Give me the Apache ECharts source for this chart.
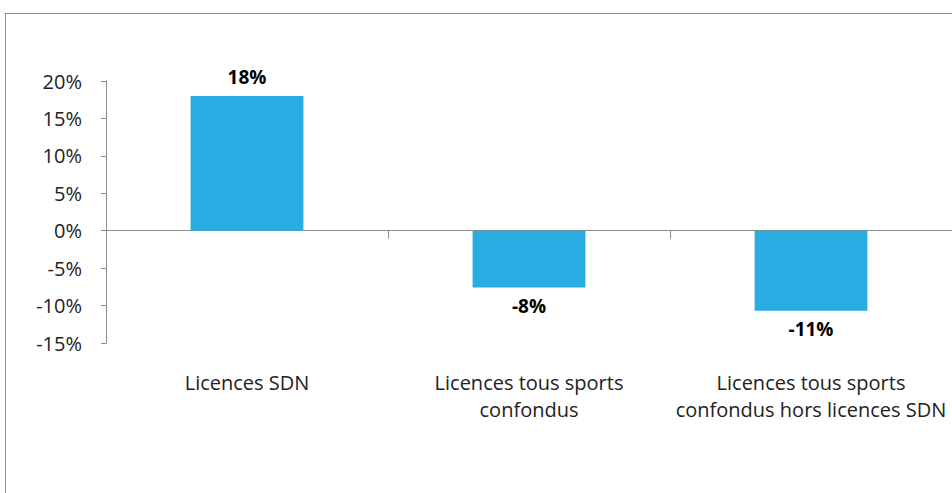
<!DOCTYPE html>
<html>
<head>
<meta charset="utf-8">
<script src="https://cdn.jsdelivr.net/npm/echarts@6/dist/echarts.min.js"></script>
<style>
  html, body { margin: 0; padding: 0; background: #ffffff; overflow: hidden; }
  #frame { position: absolute; left: 5px; top: 13px; width: 960px; height: 500px; border-top: 1px solid #8c8c8c; border-left: 1px solid #8c8c8c; }
  #chart { position: absolute; left: 0; top: 0; width: 952px; height: 493px; }
</style>
</head>
<body>
<div id="frame"></div>
<div id="chart"></div>
<script>
"use strict";

// catégories et valeurs (en %)
var categories = [
    'Licences SDN',
    'Licences tous sports\nconfondus',
    'Licences tous sports\nconfondus hors licences SDN'
];
var values = [18.0, -7.6, -10.7];
// graduations de l'axe Y
var yMin = -15;
var yMax = 20;
var yStep = 5;

var chart = echarts.init(document.getElementById('chart'), null, {renderer: 'svg'});

var fontFamily = '"Open Sans", Lato, sans-serif';

var option = {
    animation: false,
    backgroundColor: 'transparent',
    grid: {
        left: 106,
        right: -3,
        top: 81,
        bottom: 150
    },
    xAxis: [
        {
            // axe à zéro avec les graduations
            type: 'category',
            position: 'bottom',
            data: categories,
            axisLine: {
                onZero: true,
                lineStyle: {color: '#8c8c8c', width: 1}
            },
            axisTick: {
                show: true,
                length: 8,
                alignWithLabel: false,
                lineStyle: {color: '#8c8c8c'}
            },
            axisLabel: {show: false},
            splitLine: {show: false}
        },
        {
            // libellés en bas du graphique
            type: 'category',
            position: 'bottom',
            data: categories,
            axisLine: {show: false, onZero: false},
            axisTick: {show: false},
            axisLabel: {
                show: true,
                interval: 0,
                margin: 26,
                color: '#222222',
                fontFamily: fontFamily,
                fontSize: 20,
                lineHeight: 27,
                align: 'center'
            },
            splitLine: {show: false}
        }
    ],
    yAxis: {
        type: 'value',
        min: yMin,
        max: yMax,
        interval: yStep,
        axisLine: {
            show: true,
            lineStyle: {color: '#8c8c8c', width: 1}
        },
        axisTick: {
            show: true,
            length: 5,
            lineStyle: {color: '#8c8c8c'}
        },
        splitLine: {show: false},
        axisLabel: {
            margin: 24,
            color: '#222222',
            fontFamily: fontFamily,
            fontSize: 20,
            formatter: '{value}%'
        }
    },
    series: [
        {
            type: 'bar',
            xAxisIndex: 0,
            barWidth: '40%',
            itemStyle: {color: '#29ace2'},
            label: {
                show: true,
                distance: 9,
                color: '#000000',
                fontFamily: fontFamily,
                fontWeight: 'bold',
                fontSize: 19,
                formatter: function (p) {
                    return p.value.toFixed(0) + '%';
                }
            },
            data: values.map(function (v) {
                return {value: v, label: {position: v < 0 ? 'bottom' : 'top'}};
            })
        }
    ]
};

chart.setOption(option);
</script>
</body>
</html>
